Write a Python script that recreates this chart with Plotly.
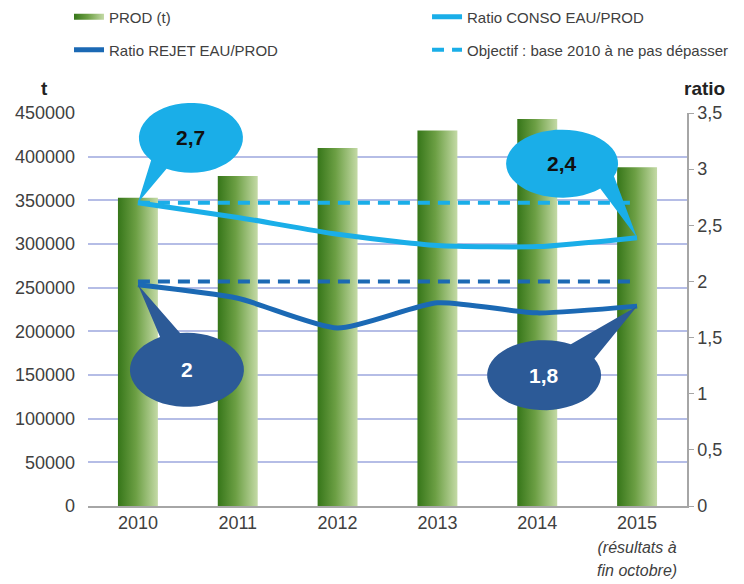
import math
import plotly.graph_objects as go

# ---------------- data ----------------
years = ["2010", "2011", "2012", "2013", "2014", "2015"]
year_labels = ["2010", "2011", "2012", "2013", "2014",
               "2015<br><span style='font-size:16px'><i>(résultats à</i></span>"
               "<br><span style='font-size:16px'><i>fin octobre)</i></span>"]
prod_t = [353000, 378000, 410000, 430000, 443000, 388000]
ratio_conso = [2.70, 2.57, 2.42, 2.32, 2.31, 2.39]
ratio_rejet = [1.97, 1.85, 1.585, 1.81, 1.72, 1.78]
objectif_conso = [2.7] * 6
objectif_rejet = [2.0] * 6
left_ticks = [0, 50000, 100000, 150000, 200000, 250000, 300000, 350000, 400000, 450000]
right_ticks = [0, 0.5, 1, 1.5, 2, 2.5, 3, 3.5]
right_ticktext = ["0", "0,5", "1", "1,5", "2", "2,5", "3", "3,5"]
callout_texts = ["2,7", "2,4", "2", "1,8"]

FONT = "Liberation Sans, Arial, sans-serif"
LIGHT = "#1aaee8"
DARK = "#1b69b4"
CALL_DARK = "#2c5a97"
xs = list(range(len(years)))
half = 0.2
X_RANGE = [-0.5, len(years) - 0.5]
Y2_RANGE = [0, 3.5]

fig = go.Figure()

# bars with horizontal gradient (drawn as filled polygons on the data scales)
for i, v in enumerate(prod_t):
    fig.add_trace(go.Scatter(
        x=[i - half, i + half, i + half, i - half, i - half],
        y=[0, 0, v, v, 0],
        mode="none", fill="toself",
        fillgradient=dict(type="horizontal",
                          colorscale=[[0, "#367619"], [0.45, "#6c9f44"], [1, "#c4daa6"]]),
        name="PROD (t)", legendgroup="prod", showlegend=(i == 0),
        legend="legend", yaxis="y", hoverinfo="skip"))

# objective dashed lines
fig.add_trace(go.Scatter(x=xs, y=objectif_conso, mode="lines", yaxis="y2",
                         line=dict(color=LIGHT, width=4, dash="12px,8px"),
                         name="Objectif : base 2010 à ne pas dépasser",
                         legend="legend4", legendgroup="obj"))
fig.add_trace(go.Scatter(x=xs, y=objectif_rejet, mode="lines", yaxis="y2",
                         line=dict(color=DARK, width=4, dash="12px,8px"),
                         name="Objectif", showlegend=False, legendgroup="obj"))

# ratio lines
fig.add_trace(go.Scatter(x=xs, y=ratio_conso, mode="lines", yaxis="y2",
                         line=dict(color=LIGHT, width=5, shape="spline", smoothing=0.6),
                         name="Ratio CONSO EAU/PROD", legend="legend2"))
fig.add_trace(go.Scatter(x=xs, y=ratio_rejet, mode="lines", yaxis="y2",
                         line=dict(color=DARK, width=5, shape="spline", smoothing=0.6),
                         name="Ratio REJET EAU/PROD", legend="legend3"))


def callout_path(cx, cy, rx, ry, a_lo, a_hi, n=48):
    pts = ["M0,0"]
    start = a_hi
    end = a_lo + 360
    for k in range(n + 1):
        a = math.radians(start + (end - start) * k / n)
        pts.append("L%.1f,%.1f" % (cx + rx * math.cos(a), cy + ry * math.sin(a)))
    pts.append("Z")
    return " ".join(pts)


def to_paper(v, rng):
    return (v - rng[0]) / (rng[1] - rng[0])


callouts = [
    # series, index, cx, cy, rx, ry, tail angles, fill, text colour
    (ratio_conso, 0, 53, 65, 52, 35, 220, 242, LIGHT, "#111111"),
    (ratio_conso, 5, -75, 74, 56, 34, 313, 338, LIGHT, "#111111"),
    (ratio_rejet, 0, 49, -85, 57, 37, 97, 118, CALL_DARK, "white"),
    (ratio_rejet, 5, -93, -69, 57, 35, 28, 62, CALL_DARK, "white"),
]
shapes = []
annotations = []
for (ser, idx, cx, cy, rx, ry, alo, ahi, col, tcol), txt in zip(callouts, callout_texts):
    ax = to_paper(xs[idx], X_RANGE)
    ay = to_paper(ser[idx], Y2_RANGE)
    shapes.append(dict(type="path", xref="paper", yref="paper",
                       xsizemode="pixel", ysizemode="pixel",
                       xanchor=ax, yanchor=ay,
                       path=callout_path(cx, cy, rx, ry, alo, ahi),
                       fillcolor=col, line=dict(width=0), layer="above"))
    annotations.append(dict(xref="paper", yref="paper", x=ax, y=ay,
                            xanchor="center", yanchor="middle",
                            xshift=cx, yshift=cy, showarrow=False, text="<b>%s</b>" % txt,
                            font=dict(family=FONT, size=21, color=tcol)))

annotations.append(dict(xref="paper", yref="paper", x=-0.0718, y=1.0636, showarrow=False,
                        xanchor="center", yanchor="middle",
                        text="<b>t</b>", font=dict(family=FONT, size=19, color="#222222")))
annotations.append(dict(xref="paper", yref="paper", x=1.0284, y=1.0636, showarrow=False,
                        xanchor="center", yanchor="middle",
                        text="<b>ratio</b>", font=dict(family=FONT, size=19, color="#222222")))

legend_font = dict(family=FONT, size=15, color="#404040")
row1, row2 = 1.2443, 1.160
col1, col2 = -0.0317, 0.566


def leg(x, y):
    return dict(x=x, y=y, xanchor="left", yanchor="middle", orientation="h",
                bgcolor="rgba(0,0,0,0)", font=legend_font)


fig.update_layout(
    width=744, height=584,
    margin=dict(l=80, r=65, t=105, b=86, autoexpand=False),
    paper_bgcolor="white", plot_bgcolor="white",
    font=dict(family=FONT, size=18, color="#404040"),
    showlegend=True,
    legend=leg(col1, row1), legend2=leg(col2, row1),
    legend3=leg(col1, row2), legend4=leg(col2, row2),
    xaxis=dict(range=X_RANGE, tickmode="array", tickvals=xs, ticktext=year_labels,
               showgrid=False, showline=True, linecolor="#a6a6a6", linewidth=1.5,
               zeroline=False, ticks="", tickfont=dict(size=18, color="#404040")),
    yaxis=dict(range=[0, 450000], tickmode="array", tickvals=left_ticks, tickformat="d",
               showgrid=True, gridcolor="#b5bde6", gridwidth=1.5,
               zeroline=True, zerolinecolor="#a6a6a6", zerolinewidth=1.5,
               showline=False, ticks="", ticklabelstandoff=12,
               tickfont=dict(size=18, color="#404040")),
    yaxis2=dict(range=Y2_RANGE, overlaying="y", side="right", tickmode="array",
                tickvals=right_ticks, ticktext=right_ticktext, showgrid=False,
                zeroline=False, showline=True, linecolor="#a6a6a6", linewidth=1.5,
                ticks="outside", ticklen=5, tickcolor="#a6a6a6",
                tickfont=dict(size=18, color="#404040")),
    shapes=shapes,
    annotations=annotations,
)

fig.write_html("out.html")
